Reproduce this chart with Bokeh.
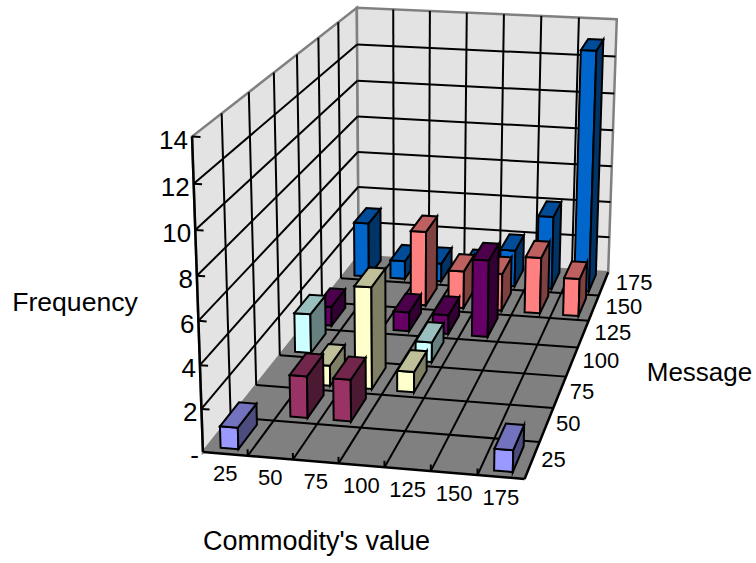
import numpy as np
from bokeh.plotting import figure
from bokeh.models import Range1d
from bokeh.core.properties import value
from bokeh.embed import file_html
from bokeh.resources import INLINE

commodity_ticks = ["25", "50", "75", "100", "125", "150", "175"]
message_ticks = ["25", "50", "75", "100", "125", "150", "175"]
freq_ticks = ["-", "2", "4", "6", "8", "10", "12", "14"]

row_25 = [1, 0, 0, 0, 0, 0, 1]
row_50 = [0, 2, 2, 0, 0, 0, 0]
row_75 = [0, 1, 5, 1, 0, 0, 0]
row_100 = [2, 0, 0, 1, 0, 0, 0]
row_125 = [1, 0, 1, 1, 4, 0, 0]
row_150 = [0, 0, 4, 2, 2, 3, 2]
row_175 = [3, 1, 1, 1, 2, 4, 13]
series = [row_25, row_50, row_75, row_100, row_125, row_150, row_175]
colours = ["#9999FF", "#993366", "#FFFFCC", "#CCFFFF", "#660066", "#FF8080", "#0066CC"]

# camera calibration: cube corners (x, y, z) -> page pixels
anchors = [((0, 0, 0), (203, 451)), ((7, 0, 0), (524, 479)), ((7, 7, 0), (608, 271)),
           ((0, 7, 0), (357.5, 256)), ((0, 0, 14), (191, 136)), ((0, 7, 14), (357, 7)),
           ((7, 7, 14), (616, 19))]
A, b = [], []
for (X, Y, Z), (u, v) in anchors:
    A.append([X, Y, Z, 1, 0, 0, 0, 0, -u * X, -u * Y, -u * Z]); b.append(u)
    A.append([0, 0, 0, 0, X, Y, Z, 1, -v * X, -v * Y, -v * Z]); b.append(v)
sol = np.linalg.lstsq(np.array(A, float), np.array(b, float), rcond=None)[0]
P = np.append(sol, 1.0).reshape(3, 4)


def proj(x, y, z):
    q = P @ np.array([x, y, z, 1.0])
    return q[0] / q[2], q[1] / q[2]


def shade(c, f):
    r, g, bl = int(c[1:3], 16), int(c[3:5], 16), int(c[5:7], 16)
    return "#%02X%02X%02X" % (int(r * f), int(g * f), int(bl * f))


p = figure(width=756, height=563, output_backend="svg", toolbar_location=None,
           x_range=Range1d(0, 756), y_range=Range1d(563, 0), min_border=0)
p.axis.visible = False
p.grid.visible = False
p.outline_line_color = None


def poly(pts, fill, line=None, w=2.0):
    c = [proj(*q) for q in pts]
    p.patch([a[0] for a in c], [a[1] for a in c], fill_color=fill,
            line_color=line, line_width=w, line_join="miter")


def seg(a, b, colour="#000000", w=2.0):
    u, v = proj(*a), proj(*b)
    p.line([u[0], v[0]], [u[1], v[1]], line_color=colour, line_width=w)


N, ZM = 7, 14
poly([(0, 0, 0), (0, N, 0), (0, N, ZM), (0, 0, ZM)], "#E3E3E3", "#808080", 2.5)
poly([(0, N, 0), (N, N, 0), (N, N, ZM), (0, N, ZM)], "#E3E3E3", "#808080", 2.5)
poly([(0, 0, 0), (N, 0, 0), (N, N, 0), (0, N, 0)], "#808080", None)
for i in range(1, N):
    seg((i, N, 0), (i, N, ZM))
    seg((0, i, 0), (0, i, ZM))
    seg((i, 0, 0), (i, N, 0))
    seg((0, i, 0), (N, i, 0))
for k in range(2, ZM, 2):
    seg((0, 0, k), (0, N, k))
    seg((0, N, k), (N, N, k))
seg((0, 0, 0), (0, 0, ZM), w=2.5)
seg((0, 0, 0), (N, 0, 0), w=2.5)
seg((N, 0, 0), (N, N, 0), w=2.5)
for k in range(2, ZM + 1, 2):
    seg((0, 0, k), (0.18, 0, k))
for i in range(1, N):
    seg((i, 0, 0), (i, 0, 0.3))

HW = 0.2
HD = 0.35
for j in range(N - 1, -1, -1):
    for i in range(N):
        v = series[j][i]
        if not v:
            continue
        c = colours[j]
        x0, x1 = i + 0.5 - HW, i + 0.5 + HW
        y0, y1 = j + 0.5 - HD, j + 0.5 + HD
        poly([(x0, y0, 0), (x1, y0, 0), (x1, y0, v), (x0, y0, v)], c, "#000000")
        poly([(x1, y0, 0), (x1, y1, 0), (x1, y1, v), (x1, y0, v)], shade(c, 0.5), "#000000")
        poly([(x0, y0, v), (x1, y0, v), (x1, y1, v), (x0, y1, v)], shade(c, 0.75), "#000000")

font = value("Liberation Sans")
for k, t in enumerate(freq_ticks):
    u, v_ = proj(0, 0, 2 * k)
    p.text([u - 4], [v_ + 3], text=[t], text_font=font, text_font_size="26px",
           text_align="right", text_baseline="middle", text_color="#000000")
for i, t in enumerate(commodity_ticks):
    u, v_ = proj(i + 0.5, 0, 0)
    p.text([u], [v_ + 20], text=[t], text_font=font, text_font_size="22px",
           text_align="center", text_baseline="middle", text_color="#000000")
for j, t in enumerate(message_ticks):
    u, v_ = proj(N, j + 0.5, 0)
    p.text([u + 9 + 0.55 * j], [v_ - 1], text=[t], text_font=font, text_font_size="22px",
           text_align="left", text_baseline="middle", text_color="#000000")
p.text([74.5], [301], text=["Frequency"], text_font=font, text_font_size="26.6px",
       text_align="center", text_baseline="middle", text_color="#000000")
p.text([316], [540], text=["Commodity's value"], text_font=font, text_font_size="27px",
       text_align="center", text_baseline="middle", text_color="#000000")
p.text([699], [371], text=["Message"], text_font=font, text_font_size="26px",
       text_align="center", text_baseline="middle", text_color="#000000")

open("out.html", "w").write(file_html(p, INLINE))
